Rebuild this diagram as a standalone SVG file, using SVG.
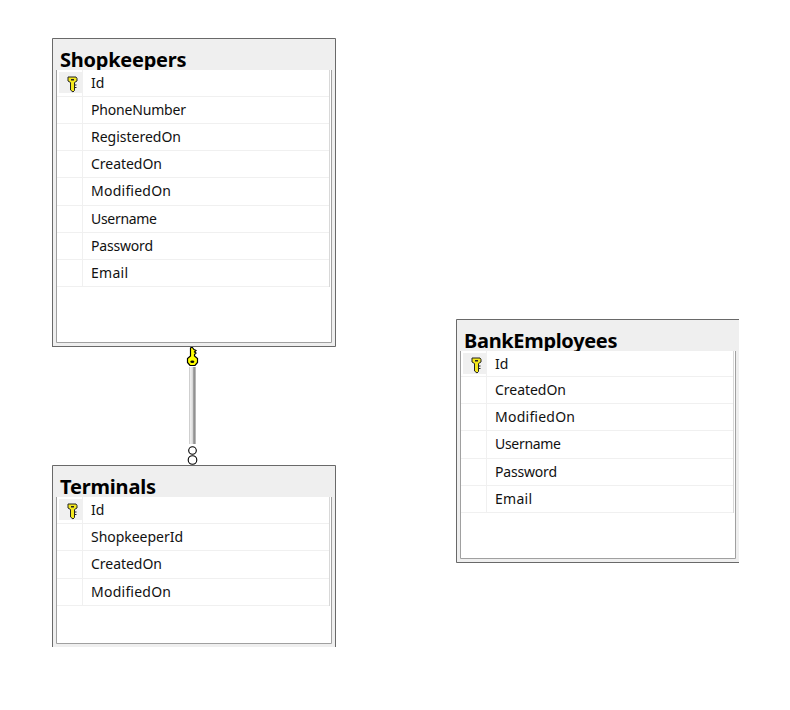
<svg xmlns="http://www.w3.org/2000/svg" width="790" height="710" viewBox="0 0 790 710">
<style>
.bg{fill:#efefef}
.edge{fill:none;stroke:#696969;stroke-width:1}
.inner{fill:#fff;stroke:#a0a0a0;stroke-width:1}
.vs{fill:none;stroke:#d8d8d8;stroke-width:1}
.row{stroke:#f0f0f0;stroke-width:1;fill:none}
.title{font:bold 20px "Noto Sans","Open Sans",sans-serif;fill:#000}
.f{font:14px "Noto Sans","Open Sans",sans-serif;fill:#111}
.cell{fill:#f0f0f0}
</style>
<defs>
<linearGradient id="bar" x1="0" x2="1" y1="0" y2="0">
<stop offset="0" stop-color="#b0b0b0"/>
<stop offset="0.2" stop-color="#f2f2f2"/>
<stop offset="0.55" stop-color="#d4d4d4"/>
<stop offset="0.7" stop-color="#8c8c8c"/>
<stop offset="1" stop-color="#9a9a9a"/>
</linearGradient>
<g id="key">
<path d="M-4.500,-5.500H3.500L4.500,-4V-1.500L2,0V8L0.500,9.500L-2,7.500V0L-4.500,-1.500Z" fill="#f4e81e" stroke="#222" stroke-width="1"/>
<path d="M2,2.500H4M2,5H4" stroke="#222" stroke-width="1"/>
<rect x="-1.500" y="-3.500" width="3" height="1.500" fill="#222"/>
</g>
</defs>
<rect width="790" height="710" fill="#fff"/>
<g id="connectors">
<rect x="189.300" y="367" width="6.400" height="77" fill="url(#bar)"/>
<path d="M190.500,348L192,347L194,349.500L196,350.500L194.500,352L196,353L194.500,354.500V356L197.500,358.500V362.500L195,365.500H190L187.500,362.500V358.500L190.500,356Z" fill="#ffff00" stroke="#000" stroke-width="1.200"/>
<ellipse cx="192.300" cy="361.800" rx="2" ry="1.300" fill="#000"/>
<circle cx="192.500" cy="450.500" r="3.800" fill="#fff" stroke="#000" stroke-width="1.100"/>
<circle cx="192.500" cy="460" r="4.300" fill="#fff" stroke="#000" stroke-width="1.100"/>
</g>
<g id="shopkeepers">
<rect x="52" y="38" width="284" height="309" class="bg"/>
<path d="M52.500,347V38.500H335.500V346.500H52.500" class="edge"/>
<text x="60" y="67" class="title" textLength="126.500">Shopkeepers</text>
<rect x="56.500" y="70" width="275" height="272.500" fill="#fff"/>
<path d="M56.500,70V342.500H331.500V70" class="inner"/>
<path d="M329.500,70V287" class="vs"/>
<rect x="59" y="72" width="23" height="21" class="cell"/>
<path d="M57,96.500H329M57,123.500H329M57,150.500H329M57,177.500H329M57,205.500H329M57,232.500H329M57,259.500H329M57,286.500H329M82.500,70V287" class="row"/>
<use href="#key" x="72.500" y="82.500"/>
<text x="91" y="88" class="f">Id</text>
<text x="91" y="115" class="f" textLength="95">PhoneNumber</text>
<text x="91" y="142" class="f" textLength="90">RegisteredOn</text>
<text x="91" y="169" class="f" textLength="71">CreatedOn</text>
<text x="91" y="196" class="f" textLength="80">ModifiedOn</text>
<text x="91" y="224" class="f" textLength="66">Username</text>
<text x="91" y="251" class="f" textLength="62">Password</text>
<text x="91" y="278" class="f" textLength="37">Email</text>
</g>
<g id="terminals">
<rect x="52" y="465" width="284" height="182" class="bg"/>
<path d="M52.500,647V465.500H335.500V647" class="edge"/>
<text x="60" y="494" class="title" textLength="96">Terminals</text>
<rect x="56.500" y="497" width="275" height="146.500" fill="#fff"/>
<path d="M56.500,497V643.500H331.500V497" class="inner"/>
<path d="M329.500,497V606" class="vs"/>
<rect x="59" y="499" width="23" height="21" class="cell"/>
<path d="M57,523.500H329M57,550.500H329M57,578.500H329M57,605.500H329M82.500,497V606" class="row"/>
<use href="#key" x="72.500" y="509.500"/>
<text x="91" y="515" class="f">Id</text>
<text x="91" y="542" class="f" textLength="92">ShopkeeperId</text>
<text x="91" y="569" class="f" textLength="71">CreatedOn</text>
<text x="91" y="597" class="f" textLength="80">ModifiedOn</text>
</g>
<g id="bankemployees">
<rect x="456" y="319" width="283" height="244" class="bg"/>
<path d="M739,319.500H456.500V562.500H739" class="edge"/>
<text x="464" y="348" class="title" textLength="153.500">BankEmployees</text>
<rect x="460.500" y="351" width="275" height="207.500" fill="#fff"/>
<path d="M460.500,351V558.500H735.500V351" class="inner"/>
<path d="M733.500,351V513" class="vs"/>
<rect x="463" y="353" width="23" height="21" class="cell"/>
<path d="M461,376.500H733M461,403.500H733M461,430.500H733M461,458.500H733M461,485.500H733M461,512.500H733M486.500,351V513" class="row"/>
<use href="#key" x="476.500" y="363.500"/>
<text x="495" y="369" class="f">Id</text>
<text x="495" y="395" class="f" textLength="71">CreatedOn</text>
<text x="495" y="422" class="f" textLength="80">ModifiedOn</text>
<text x="495" y="449" class="f" textLength="66">Username</text>
<text x="495" y="477" class="f" textLength="62">Password</text>
<text x="495" y="504" class="f" textLength="37">Email</text>
</g>
</svg>
